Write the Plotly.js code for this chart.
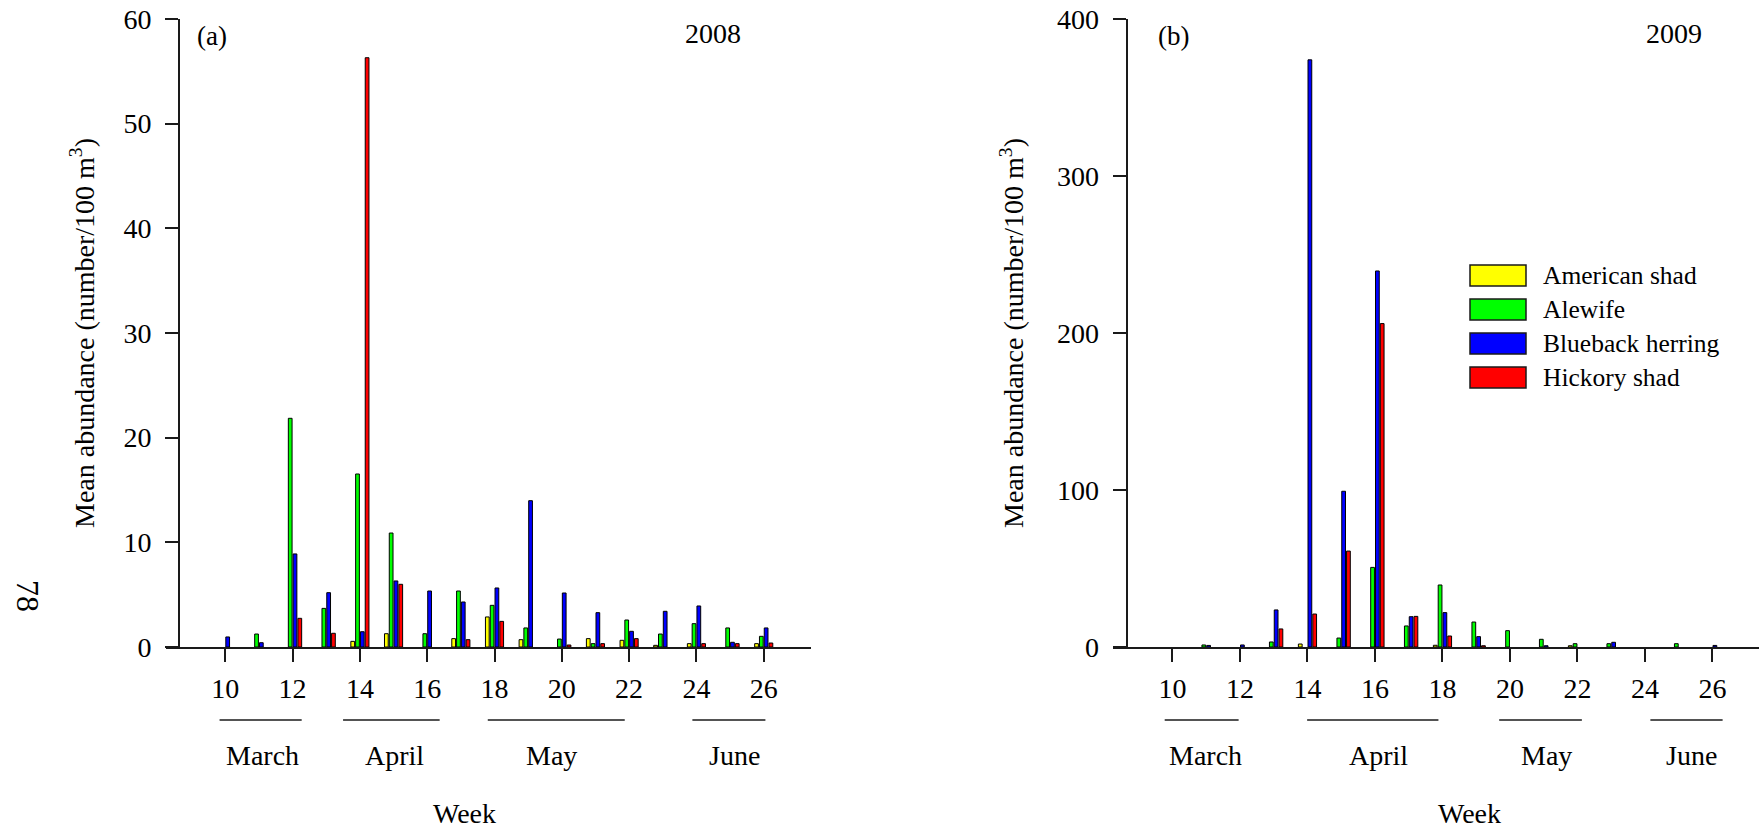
<!DOCTYPE html>
<html>
<head>
<meta charset="utf-8">
<script src="https://cdn.plot.ly/plotly-3.0.1.min.js"></script>
<style>html,body{margin:0;padding:0;background:#fff;}#chart{width:1762px;height:831px;}</style>
</head>
<body>
<div id="chart"></div>
<script>
// ---------- data ----------
const weeks = [10,11,12,13,14,15,16,17,18,19,20,21,22,23,24,25,26];
const tickWeeks = [10,12,14,16,18,20,22,24,26];
const species = ["American shad","Alewife","Blueback herring","Hickory shad"];
const speciesColors = ["#FFFF00","#00FF00","#0000FF","#FF0000"];

// 2008 (panel a)
const shad2008     = [null,null,null,null,0.54,1.27,null,0.8,2.87,0.7,null,0.8,0.64,0.16,0.32,null,0.32];
const alewife2008  = [null,1.24,21.85,3.69,16.53,10.89,1.27,5.35,3.98,1.82,0.76,0.32,2.58,1.24,2.23,1.82,1.02];
const blueback2008 = [0.96,0.41,8.89,5.19,1.46,6.31,5.35,4.30,5.64,13.98,5.16,3.28,1.50,3.41,3.92,0.45,1.82];
const hickory2008  = [null,null,2.74,1.31,56.3,5.99,null,0.70,2.45,null,0.19,0.32,0.80,null,0.32,0.32,0.38];

// 2009 (panel b)
const shad2009     = [null,null,null,null,1.9,null,null,null,1.1,null,null,null,0.8,null,null,null,null];
const alewife2009  = [null,1.3,null,3.2,null,5.7,50.7,13.4,39.5,15.9,10.4,4.9,2.1,2.1,null,2.1,null];
const blueback2009 = [null,1.0,1.3,23.6,374,99.2,239.5,19.3,21.9,6.6,null,0.8,null,3.0,null,null,1.0];
const hickory2009  = [null,null,null,11.5,21.0,61.1,206,19.5,7.0,0.8,null,null,null,null,null,null,null];

// month labels under the week axis
const months2008 = ["March","April","May","June"];
const monthSpans2008 = [[9.83,12.27],[13.5,16.37],[17.8,21.87],[23.88,26.05]];
const monthCenters2008 = [11.1,15.04,19.7,25.14];
const months2009 = ["March","April","May","June"];
const monthSpans2009 = [[9.77,11.96],[13.99,17.88],[19.68,22.13],[24.16,26.3]];
const monthCenters2009 = [10.97,16.1,21.08,25.38];

// ---------- layout helpers ----------
const W = 1762, H = 831;
const px = v => v / W;
const py = v => 1 - v / H;
const FONT = "Liberation Serif, Times New Roman, serif";
const INK = "#1a1a1a";

const series2008 = [shad2008, alewife2008, blueback2008, hickory2008];
const series2009 = [shad2009, alewife2009, blueback2009, hickory2009];

const traces = [];
series2008.forEach((vals, i) => traces.push({
  type: "bar", x: weeks, y: vals, name: species[i], xaxis: "x", yaxis: "y",
  marker: {color: speciesColors[i], line: {color: "#000", width: 1}},
  showlegend: false, hoverinfo: "x+y+name"
}));
series2009.forEach((vals, i) => traces.push({
  type: "bar", x: weeks, y: vals, name: species[i], xaxis: "x2", yaxis: "y2",
  marker: {color: speciesColors[i], line: {color: "#000", width: 1}},
  showlegend: false, hoverinfo: "x+y+name"
}));

const xCommon = {
  range: [8.25, 27.39], tickvals: tickWeeks, ticks: "outside", ticklen: 13, tickwidth: 2,
  tickcolor: INK, showline: true, linecolor: INK, linewidth: 2, showgrid: false, zeroline: false,
  tickfont: {family: FONT, size: 28, color: "#000"}, automargin: false, ticklabelstandoff: 2
};
const yCommon = {
  anchor: "free", domain: [py(647), py(19)], ticks: "outside", ticklen: 13, tickwidth: 2,
  tickcolor: INK, showline: true, linecolor: INK, linewidth: 2, showgrid: false, zeroline: false,
  tickfont: {family: FONT, size: 28, color: "#000"}, automargin: false, ticklabelstandoff: 8
};
const yTitle = "Mean abundance (number/100 m<sup>3</sup>)";

const layout = {
  width: W, height: H, margin: {l: 0, r: 0, t: 0, b: 0},
  paper_bgcolor: "#fff", plot_bgcolor: "rgba(0,0,0,0)",
  barmode: "group", bargap: 0.43, bargroupgap: 0.22,
  showlegend: false,
  font: {family: FONT, color: "#000"},
  xaxis: Object.assign({}, xCommon, {domain: [px(166.4), px(810.5)], anchor: "y"}),
  yaxis: Object.assign({}, yCommon, {range: [0, 60], dtick: 10, position: px(179),
    title: {text: yTitle, font: {family: FONT, size: 28, color: "#000"}, standoff: 20}}),
  xaxis2: Object.assign({}, xCommon, {domain: [px(1113.4), px(1759.4)], anchor: "y2"}),
  yaxis2: Object.assign({}, yCommon, {range: [0, 400], dtick: 100, position: px(1126.7),
    title: {text: yTitle, font: {family: FONT, size: 28, color: "#000"}, standoff: 24}}),
  annotations: [],
  shapes: []
};

const ann = (o) => layout.annotations.push(Object.assign({showarrow: false, font: {family: FONT, size: 28, color: "#000"}}, o));

ann({text: "(a)", xref: "paper", yref: "paper", x: px(212), y: py(36), xanchor: "center", yanchor: "middle", font: {family: FONT, size: 27, color: "#000"}});
ann({text: "2008", xref: "paper", yref: "paper", x: px(713), y: py(33), xanchor: "center", yanchor: "middle"});
ann({text: "(b)", xref: "paper", yref: "paper", x: px(1173), y: py(36), xanchor: "center", yanchor: "middle", font: {family: FONT, size: 27, color: "#000"}});
ann({text: "2009", xref: "paper", yref: "paper", x: px(1674), y: py(33), xanchor: "center", yanchor: "middle"});
ann({text: "78", xref: "paper", yref: "paper", x: px(28), y: py(596), xanchor: "center", yanchor: "middle", textangle: 90, font: {family: FONT, size: 32, color: "#000"}});

// month labels + lines
[[months2008, monthSpans2008, monthCenters2008, "x"], [months2009, monthSpans2009, monthCenters2009, "x2"]].forEach(([names, spans, centers, xr]) => {
  names.forEach((m, i) => {
    ann({text: m, xref: xr, yref: "paper", x: centers[i], y: py(755), xanchor: "center", yanchor: "middle"});
    layout.shapes.push({type: "line", xref: xr, yref: "paper", x0: spans[i][0], x1: spans[i][1], y0: py(720), y1: py(720), line: {color: INK, width: 1.5}});
  });
});
ann({text: "Week", xref: "x", yref: "paper", x: 17.12, y: py(813), xanchor: "center", yanchor: "middle"});
ann({text: "Week", xref: "x2", yref: "paper", x: 18.79, y: py(813), xanchor: "center", yanchor: "middle"});

// custom legend (wide swatches as in the original)
species.forEach((s, i) => {
  const top = 265 + i * 34;
  layout.shapes.push({type: "rect", xref: "paper", yref: "paper", x0: px(1470), x1: px(1526), y0: py(top), y1: py(top + 21),
    fillcolor: speciesColors[i], line: {color: INK, width: 1.5}});
  ann({text: s, xref: "paper", yref: "paper", x: px(1541), y: py(top + 10.5), xanchor: "left", yanchor: "middle", font: {family: FONT, size: 25.5, color: "#000"}});
});

Plotly.newPlot("chart", traces, layout, {displayModeBar: false, staticPlot: true});
</script>
</body>
</html>
